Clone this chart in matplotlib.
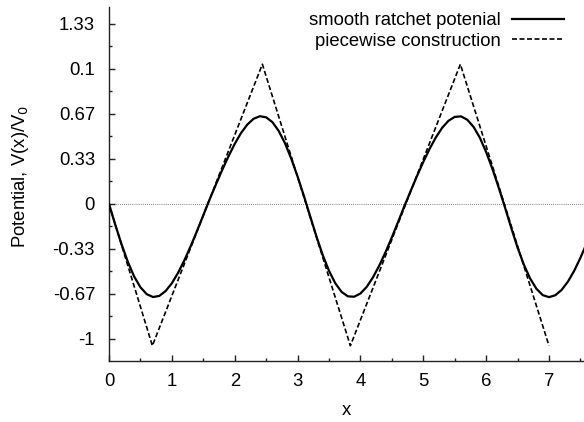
import numpy as np
import matplotlib
matplotlib.use("Agg")
import matplotlib.pyplot as plt
from matplotlib.ticker import MultipleLocator

plt.rcParams['font.family'] = ['Liberation Sans', 'DejaVu Sans']

# smooth ratchet potential, every 0.1 in x
x_smooth = np.round(np.arange(0, 7.61, 0.1), 2)
v_smooth = [0.0, -0.154, -0.299, -0.429, -0.537, -0.617, -0.668, -0.689, -0.681, -0.645,
            -0.587, -0.509, -0.416, -0.312, -0.200, -0.084, 0.033, 0.143, 0.251, 0.352,
            0.445, 0.525, 0.588, 0.631, 0.650, 0.642, 0.606, 0.541, 0.450, 0.335,
            0.204, 0.061, -0.090, -0.240, -0.378, -0.495, -0.587, -0.651, -0.684, -0.687,
            -0.663, -0.614, -0.543, -0.456, -0.356, -0.247, -0.132, -0.015, 0.097, 0.207,
            0.311, 0.408, 0.493, 0.564, 0.616, 0.645, 0.649, 0.624, 0.571, 0.491,
            0.385, 0.260, 0.121, -0.026, -0.178, -0.323, -0.449, -0.552, -0.628, -0.675,
            -0.690, -0.676, -0.637, -0.576, -0.496, -0.399, -0.291]

# piecewise linear construction (corner points)
x_piece = [0.0, 0.69, 2.44, 3.84, 5.59, 7.0]
v_piece = [0.0, -1.05, 1.035, -1.05, 1.035, -1.05]

yticks = [4/3, 1.0, 2/3, 1/3, 0.0, -1/3, -2/3, -1.0]
ytick_labels = ['1.33', '0.1', '0.67', '0.33', '0', '-0.33', '-0.67', '-1']

fs = 13.3

fig = plt.figure(figsize=(5.84, 4.22), dpi=100)
ax = fig.add_axes([109/584, 1 - 361/422, 475/584, 354/422])

ax.axhline(0, color='#555555', lw=0.6, ls=(0, (1, 1.5)), zorder=1)
ax.plot(x_smooth, v_smooth, color='black', lw=1.6, label='smooth ratchet potenial', zorder=3)
ax.plot(x_piece, v_piece, color='black', lw=1.2, ls=(0, (3, 1.5)),
        label='piecewise construction', zorder=2)

ax.set_xlim(0, 7.557)
ax.set_ylim(-1.163, 1.459)
ax.xaxis.set_major_locator(MultipleLocator(1))
ax.xaxis.set_minor_locator(MultipleLocator(0.5))
ax.set_yticks(yticks)
ax.set_yticklabels(ytick_labels)
ax.yaxis.set_minor_locator(MultipleLocator(1/6))

for side in ['top', 'right']:
    ax.spines[side].set_visible(False)
for side in ['left', 'bottom']:
    ax.spines[side].set_linewidth(1.0)
    ax.spines[side].set_color('#222222')

ax.tick_params(which='both', direction='in', labelsize=fs, colors='#222222', labelcolor='black')
ax.tick_params(which='major', length=4.5, width=1.0)
ax.tick_params(which='minor', length=2.5, width=1.0)
ax.tick_params(axis='x', which='major', pad=8.5)
ax.tick_params(axis='y', which='major', pad=10)

ax.set_xlabel('x', fontsize=fs, labelpad=9)
ax.set_ylabel('Potential, V(x)/V$_0$', fontsize=fs)
ax.yaxis.set_label_coords(-0.164, 0.522)

ax.legend(loc='upper right', frameon=False, markerfirst=False, fontsize=fs,
          handlelength=2.8, handletextpad=0.6, labelspacing=0.17,
          borderaxespad=0.2, bbox_to_anchor=(0.981, 1.016))

fig.savefig('out.png', dpi=100)
